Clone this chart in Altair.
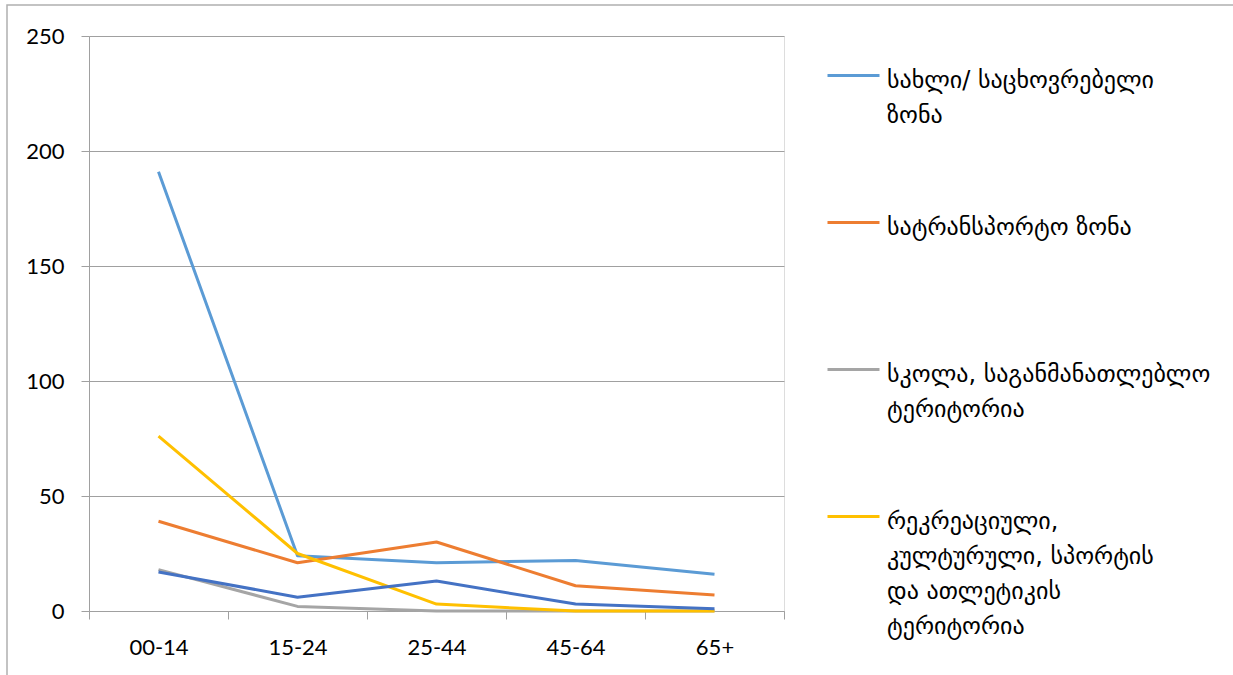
import altair as alt
import pandas as pd

categories = ["00-14", "15-24", "25-44", "45-64", "65+"]
series_names = [
    "სახლი/ საცხოვრებელი\nზონა",
    "სატრანსპორტო ზონა\n",
    "სკოლა, საგანმანათლებლო\nტერიტორია",
    "რეკრეაციული,\nკულტურული, სპორტის\nდა ათლეტიკის\nტერიტორია",
    "სხვა",
]
colors = ["#5B9BD5", "#ED7D31", "#A5A5A5", "#FFC000", "#4472C4"]

home = [191, 24, 21, 22, 16]
transport = [39, 21, 30, 11, 7]
school = [18, 2, 0, 0, 0]
recreation = [76, 25, 3, 0, 0]
other = [17, 6, 13, 3, 1]

all_values = [home, transport, school, recreation, other]
rows = []
for si, (name, vals) in enumerate(zip(series_names, all_values)):
    for ci, (cat, v) in enumerate(zip(categories, vals)):
        rows.append({"series": name, "order": si, "age": cat, "value": v})
df = pd.DataFrame(rows)

W, H = 695, 575
DY = -7

lines = alt.Chart(df).mark_line(strokeWidth=3, strokeCap="butt", strokeJoin="round").encode(
    x=alt.X(
        "age:N",
        sort=categories,
        bandPosition=0.5,
        scale=alt.Scale(type="band", paddingInner=0, paddingOuter=0),
        axis=alt.Axis(
            title=None,
            labelAngle=0,
            tickBand="extent",
            tickSize=8,
            tickColor="#a0a0a0",
            domainColor="#a0a0a0",
            labelFont="Lato",
            labelFontSize=22,
            labelColor="#000000",
            labelPadding=18 - DY,
            grid=False,
        ),
    ),
    y=alt.Y(
        "value:Q",
        scale=alt.Scale(domain=[0, 250], nice=False),
        axis=alt.Axis(
            title=None,
            values=[0, 50, 100, 150, 200, 250],
            tickSize=8,
            tickColor="#a0a0a0",
            domainColor="#a0a0a0",
            gridColor="#a0a0a0",
            labelFont="Lato",
            labelFontSize=22,
            labelColor="#000000",
            labelPadding=17,
            labelOffset=-DY,
        ),
    ),
    color=alt.Color(
        "series:N",
        scale=alt.Scale(domain=series_names, range=colors),
        legend=alt.Legend(
            title=None,
            values=series_names[:4],
            orient="none",
            legendX=737,
            legendY=12,
            symbolType="stroke",
            symbolStrokeWidth=3,
            symbolSize=2704,
            labelFont="DejaVu Sans",
            labelFontSize=24,
            labelColor="#000000",
            labelLimit=0,
            labelOffset=6,
            labelBaseline="top",
            labelExpr="split(datum.label, '\\n')",
            rowPadding=67,
            padding=0,
        ),
    ),
    order=alt.Order("order:Q"),
    detail="series:N",
)

border = alt.Chart(pd.DataFrame({"a": [0]})).mark_rect(
    fillOpacity=0, stroke="#b0b0b0", strokeWidth=1.5
).encode(
    x=alt.value(-82), x2=alt.value(1300), y=alt.value(-31), y2=alt.value(800)
)

chart = alt.layer(border, lines).properties(
    width=W,
    height=H,
    autosize=alt.AutoSizeParams(type="none"),
    padding={"left": 89, "top": 36, "right": 1233 - 89 - W, "bottom": 675 - 36 - H},
).configure_view(stroke=None).configure(
    background="white",
    style={"guide-label": {"lineHeight": 35, "dy": DY}},
)

chart.save("out.html", embed_options={"renderer": "svg", "actions": False})
